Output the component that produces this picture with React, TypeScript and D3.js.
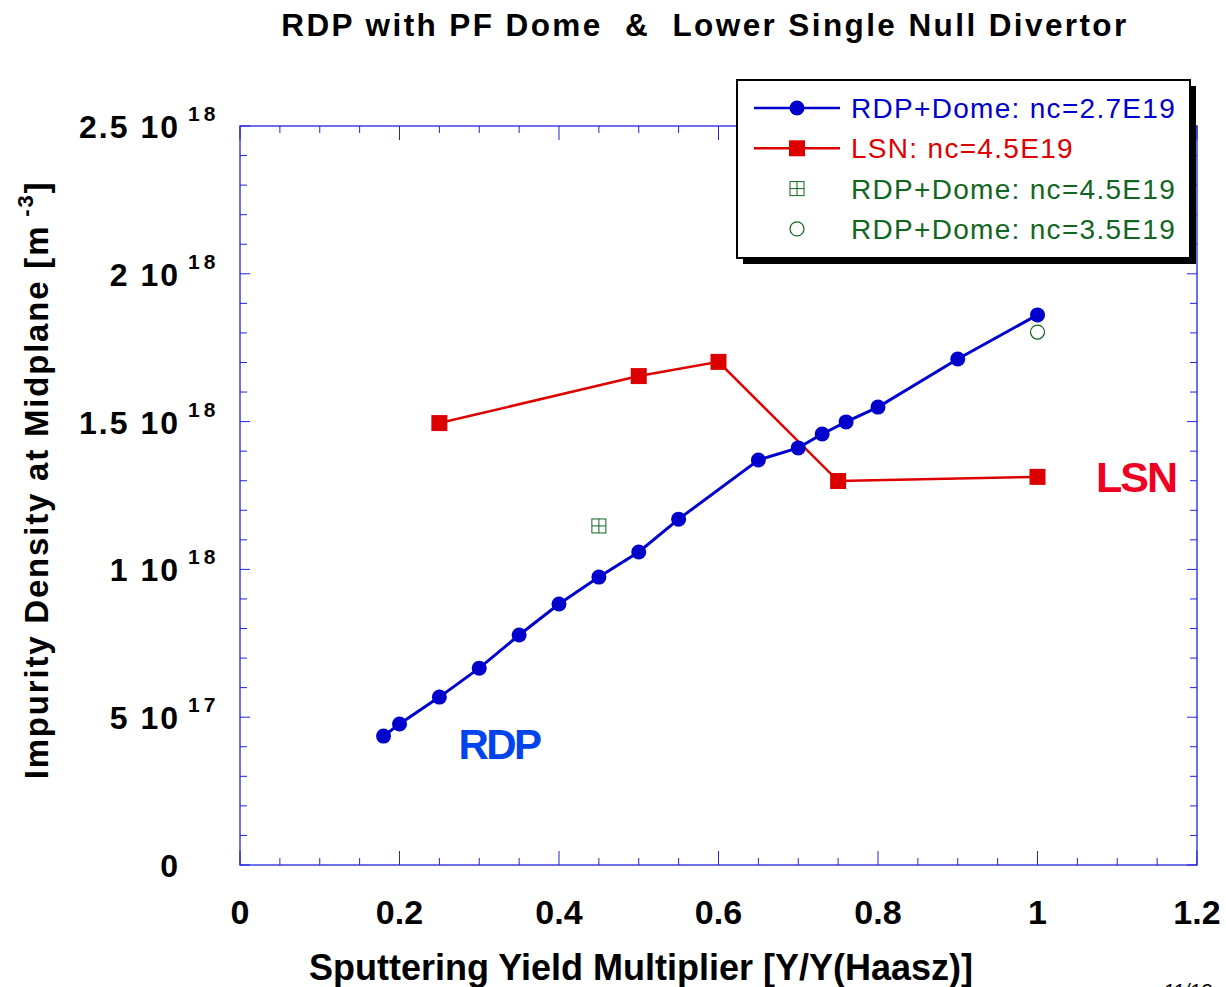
import React from "react";
import * as d3 from "d3";

const rdpX = [0.18, 0.2, 0.25, 0.3, 0.35, 0.4, 0.45, 0.5, 0.55, 0.65, 0.7, 0.73, 0.76, 0.8, 0.9, 1.0];
const rdpY = [0.436, 0.477, 0.568, 0.666, 0.778, 0.883, 0.974, 1.059, 1.17, 1.37, 1.411, 1.458, 1.499, 1.549, 1.712, 1.861];
const lsnX = [0.25, 0.5, 0.6, 0.75, 1.0];
const lsnY = [1.495, 1.654, 1.702, 1.299, 1.313];
const dome45X = [0.45];
const dome45Y = [1.147];
const dome35X = [1.0];
const dome35Y = [1.803];

const xTicks = [0, 0.2, 0.4, 0.6, 0.8, 1, 1.2];
const yTicks = [0, 0.5, 1, 1.5, 2, 2.5];
const yTickMant = ["0", "5", "1", "1.5", "2", "2.5"];
const yTickExp = ["", "17", "18", "18", "18", "18"];

const legendLabels = ["RDP+Dome: nc=2.7E19", "LSN: nc=4.5E19", "RDP+Dome: nc=4.5E19", "RDP+Dome: nc=3.5E19"];

const W = 1226, H = 987;
const L = 240, R = 1197, T = 126, B = 865;
const BLUE = "#0000cc";
const RED = "#dd0000";
const GREEN = "#116622";
const AX = "#2222dd";
const font = "'Liberation Sans', Arial, sans-serif";
const narrow = "'Liberation Sans Narrow', 'Arial Narrow', 'Liberation Sans', sans-serif";

export default function App() {
  const x = d3.scaleLinear().domain([0, 1.2]).range([L, R]);
  const y = d3.scaleLinear().domain([0, 2.5]).range([B, T]);
  const line = d3.line<[number, number]>().x(d => x(d[0])).y(d => y(d[1]));
  const rdp = rdpX.map((v, i) => [v, rdpY[i]] as [number, number]);
  const lsn = lsnX.map((v, i) => [v, lsnY[i]] as [number, number]);

  const xMinor = d3.range(0, 1.2001, 0.05);
  const yMinor = d3.range(0, 2.5001, 0.1);

  return (
    <svg width={W} height={H} style={{ position: "absolute", left: 0, top: 0 }} fontFamily={font}>
      <rect width={W} height={H} fill="white" />
      <text x={705} y={36} textAnchor="middle" fontWeight="bold" fontSize={31.5} letterSpacing={2.4} fill="#000">
        RDP with PF Dome{"\u00a0\u00a0"}&amp;{"\u00a0\u00a0"}Lower Single Null Divertor
      </text>

      {/* frame */}
      <rect x={L} y={T} width={R - L} height={B - T} fill="none" stroke={AX} strokeWidth={1.3} />
      {xMinor.map((v, i) => {
        const major = Math.abs(v / 0.2 - Math.round(v / 0.2)) < 1e-6;
        const len = major ? 14 : 7;
        return (
          <g key={"xt" + i}>
            <line x1={x(v)} x2={x(v)} y1={B} y2={B - len} stroke={AX} strokeWidth={1} />
            <line x1={x(v)} x2={x(v)} y1={T} y2={T + len} stroke={AX} strokeWidth={1} />
          </g>
        );
      })}
      {yMinor.map((v, i) => {
        const major = Math.abs(v / 0.5 - Math.round(v / 0.5)) < 1e-6;
        const len = major ? 10 : 7;
        return (
          <g key={"yt" + i}>
            <line x1={L} x2={L + len} y1={y(v)} y2={y(v)} stroke={AX} strokeWidth={1} />
            <line x1={R} x2={R - len} y1={y(v)} y2={y(v)} stroke={AX} strokeWidth={1} />
          </g>
        );
      })}

      {/* x tick labels */}
      {xTicks.map((v, i) => (
        <text key={"xl" + i} x={x(v)} y={924} textAnchor="middle" fontFamily={narrow} fontWeight="bold" fontSize={34} fill="#000">
          {d3.format("~g")(v)}
        </text>
      ))}
      {/* y tick labels */}
      {yTicks.map((v, i) => (
        <g key={"yl" + i}>
          <text x={180} y={y(v) + 12} textAnchor="end" fontWeight="bold" fontSize={32} letterSpacing={2} fill="#000">
            {yTickMant[i] + (yTickExp[i] ? " 10" : "")}
          </text>
          {yTickExp[i] && (
            <text x={188} y={y(v) - 5} fontWeight="bold" fontSize={21} letterSpacing={4} fill="#000">
              {yTickExp[i]}
            </text>
          )}
        </g>
      ))}

      {/* axis titles */}
      <text x={641} y={980} textAnchor="middle" fontFamily={narrow} fontWeight="bold" fontSize={36} fill="#000">
        Sputtering Yield Multiplier [Y/Y(Haasz)]
      </text>
      <g transform="translate(48,480) rotate(-90)">
        <text x={0} y={0} textAnchor="middle" fontWeight="bold" fontSize={33} letterSpacing={1.8} fill="#000">
          Impurity Density at Midplane [m
          <tspan dx={8} dy={-15} fontSize={22}>-3</tspan>
          <tspan dy={15}>]</tspan>
        </text>
      </g>

      {/* series */}
      <path d={line(lsn) || ""} fill="none" stroke={RED} strokeWidth={2.5} />
      <path d={line(rdp) || ""} fill="none" stroke={BLUE} strokeWidth={3} />
      {lsn.map((d, i) => (
        <rect key={"ls" + i} x={x(d[0]) - 8} y={y(d[1]) - 8} width={16} height={16} fill={RED} />
      ))}
      {rdp.map((d, i) => (
        <circle key={"rd" + i} cx={x(d[0])} cy={y(d[1])} r={7.5} fill={BLUE} />
      ))}
      {dome45X.map((v, i) => (
        <g key={"d45" + i} stroke={GREEN} strokeWidth={1} fill="none">
          <rect x={x(v) - 7} y={y(dome45Y[i]) - 7} width={14} height={14} />
          <line x1={x(v)} x2={x(v)} y1={y(dome45Y[i]) - 7} y2={y(dome45Y[i]) + 7} />
          <line x1={x(v) - 7} x2={x(v) + 7} y1={y(dome45Y[i])} y2={y(dome45Y[i])} />
        </g>
      ))}
      {dome35X.map((v, i) => (
        <circle key={"d35" + i} cx={x(v)} cy={y(dome35Y[i])} r={7} fill="none" stroke={GREEN} strokeWidth={1.2} />
      ))}

      {/* annotations */}
      <text x={499} y={759} textAnchor="middle" fontWeight="bold" fontSize={42} letterSpacing={-2.5} fill="#0044ee">RDP</text>
      <text x={1136} y={492} textAnchor="middle" fontWeight="bold" fontSize={43} letterSpacing={-2} fill="#ee0022">LSN</text>

      {/* legend */}
      <rect x={743} y={86} width={453} height={178} fill="#000" />
      <rect x={737} y={80} width={453} height={178} fill="#fff" stroke="#000" strokeWidth={2} />
      {legendLabels.map((lab, i) => {
        const ly = 108 + i * 40.3;
        const col = i === 0 ? BLUE : i === 1 ? RED : GREEN;
        return (
          <g key={"lg" + i}>
            {i === 0 && (
              <>
                <line x1={754} x2={840} y1={ly} y2={ly} stroke={BLUE} strokeWidth={2.5} />
                <circle cx={797} cy={ly} r={7.5} fill={BLUE} />
              </>
            )}
            {i === 1 && (
              <>
                <line x1={754} x2={840} y1={ly} y2={ly} stroke={RED} strokeWidth={2.5} />
                <rect x={789} y={ly - 8} width={16} height={16} fill={RED} />
              </>
            )}
            {i === 2 && (
              <g stroke={GREEN} strokeWidth={1} fill="none">
                <rect x={790} y={ly - 7} width={14} height={14} />
                <line x1={797} x2={797} y1={ly - 7} y2={ly + 7} />
                <line x1={790} x2={804} y1={ly} y2={ly} />
              </g>
            )}
            {i === 3 && <circle cx={797} cy={ly} r={7} fill="none" stroke={GREEN} strokeWidth={1.2} />}
            <text x={851} y={ly + 10} fontSize={28} letterSpacing={1.3} fill={col}>{lab}</text>
          </g>
        );
      })}

      <text x={1163} y={998} fontSize={20} fontStyle="italic" fill="#000">11/13</text>
    </svg>
  );
}
